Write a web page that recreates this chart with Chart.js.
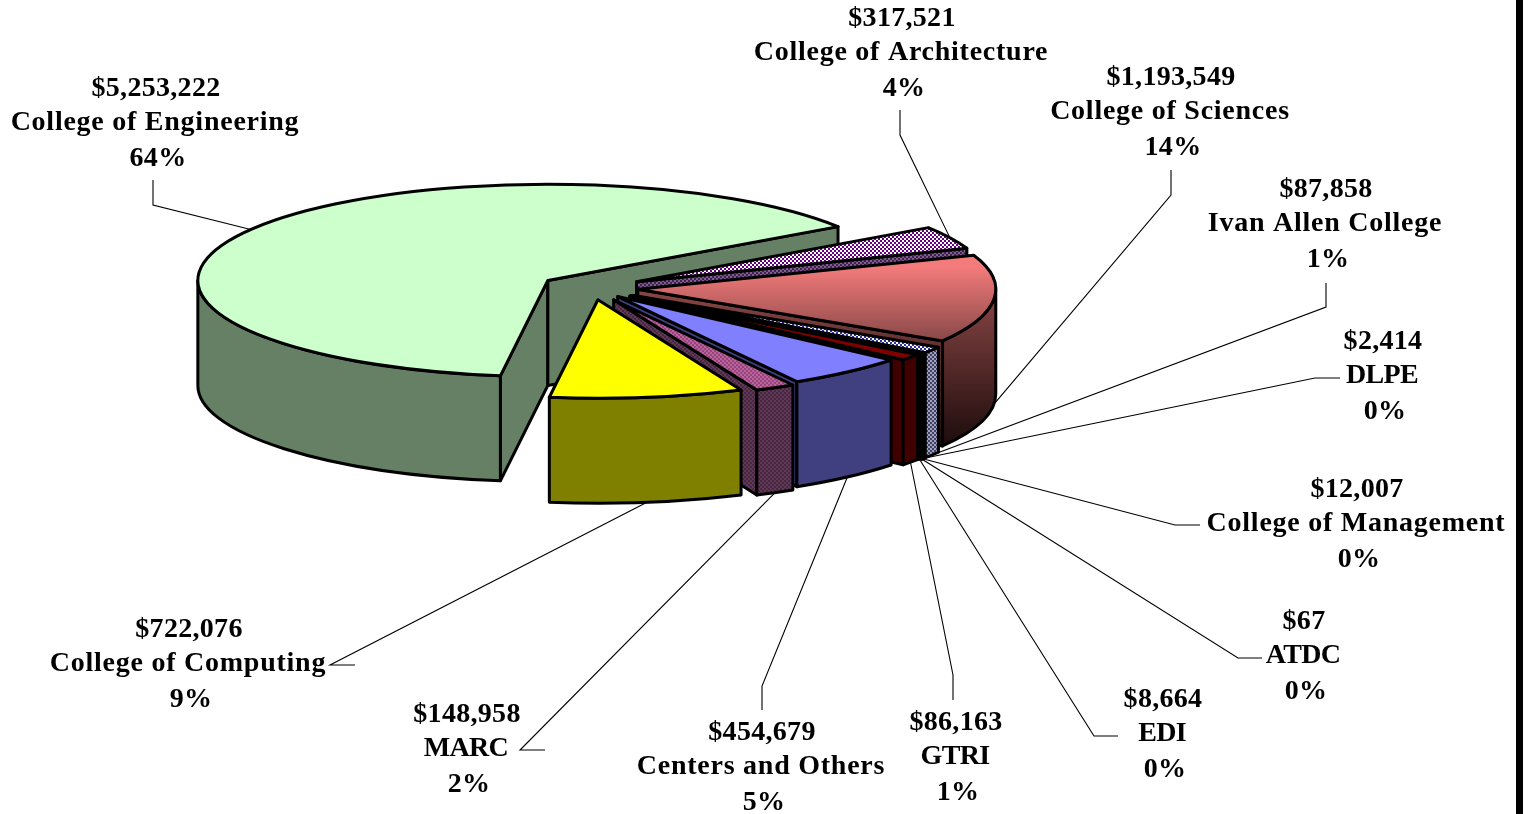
<!DOCTYPE html>
<html>
<head>
<meta charset="utf-8">
<style>
html,body{margin:0;padding:0;background:#fff;overflow:hidden}
#wrap{position:relative;width:1529px;height:814px}
#bar{position:absolute;left:1516px;top:0;width:7px;height:814px;background:#000}
canvas{display:block}
</style>
<script src="https://cdn.jsdelivr.net/npm/chart.js@4/dist/chart.umd.min.js"></script>
</head>
<body>
<div id="wrap"><canvas id="c" width="1529" height="814"></canvas><div id="bar"></div></div>
<script>
// ---- data ----
const categories = ["College of Architecture","College of Sciences","Ivan Allen College","DLPE","College of Management","ATDC","EDI","GTRI","Centers and Others","MARC","College of Computing","College of Engineering"];
const amounts = [317521,1193549,87858,2414,12007,67,8664,86163,454679,148958,722076,5253222];
const amountLabels = ["$317,521","$1,193,549","$87,858","$2,414","$12,007","$67","$8,664","$86,163","$454,679","$148,958","$722,076","$5,253,222"];
const percentLabels = ["4%","14%","1%","0%","0%","0%","0%","1%","5%","2%","9%","64%"];

// ---- layout / style ----
const explode = [50,46,50,50,50,50,48,48,40,48,43,52];
const radiusTrim = [6,0,0,0,0,0,0,0,0,0,0,8];
const labelCentre = [[901,51],[1170,110],[1325,222],[1382,374],[1356,522],[1303,654],[1162,732],[955,755],[761,765],[466,747],[188,662],[155,121]];
const leaderElbows = [[[900,110],[900,135]],[[1171,170],[1171,195]],[[1326,283],[1326,307]],[[1340,378],[1315,378]],[[1200,525],[1175,525]],[[1262,658],[1238,658]],[[1118,736],[1094,736]],[[953,700],[953,675]],[[762,710],[762,686]],[[545,750],[520,750]],[[355,665],[330,665]],[[153,180],[153,205]]];
const leaderDepth = [0,1,1,1,1,1,1,1,1,1,1,0];
const K = 0.275, RADIUS = 358, DEPTH = 105, CX = 592, CY = 288, LX = 764.5, LY = 407;

const ctx0 = document.getElementById('c').getContext('2d');
function pat(a,b){
  const n = document.createElement('canvas'); n.width = n.height = 4;
  const g = n.getContext('2d'); g.fillStyle = a; g.fillRect(0,0,4,4); g.fillStyle = b;
  g.fillRect(0,0,2,2); g.fillRect(2,2,2,2);
  return ctx0.createPattern(n,'repeat');
}
const sciTop = ctx0.createLinearGradient(0,235,0,345);
sciTop.addColorStop(0,'#ff8080'); sciTop.addColorStop(0.3,'#f27a7a'); sciTop.addColorStop(1,'#824545');
const sciWall = ctx0.createLinearGradient(0,295,0,445);
sciWall.addColorStop(0,'#864444'); sciWall.addColorStop(1,'#1e0c0c');

const topColors = [pat('#ffffff','#660080'),sciTop,pat('#ffffff','#3030a0'),'#202040','#303060','#303060',pat('#ffffff','#404040'),'#800000','#8080ff',pat('#c060a0','#904878'),'#ffff00','#ccffcc'];
const wallColors = [pat('#80608c','#402050'),sciWall,pat('#a0a0c0','#404060'),'#181830','#181830','#181830','#303040','#400000','#404080',pat('#603858','#482840'),'#808000','#668066'];
const drawOrder = [11,0,1,2,3,4,5,6,7,8,9,10];

function geom(arc,i){
  const p = arc.getProps(['x','y','startAngle','endAngle','outerRadius'],true);
  const mid = (p.startAngle+p.endAngle)/2, off = arc.options.offset||0;
  const ax = p.x+Math.cos(mid)*off+(CX-LX), ay = CY+(p.y+Math.sin(mid)*off-LY)*K;
  const R = p.outerRadius-radiusTrim[i];
  return {a:p.startAngle,b:p.endAngle,mid,ax,ay,R,
    pt:(t,d=0)=>[ax+Math.cos(t)*R, ay+Math.sin(t)*R*K+d]};
}
function quad(c,pts,fill){
  c.beginPath(); pts.forEach((q,i)=>i?c.lineTo(q[0],q[1]):c.moveTo(q[0],q[1])); c.closePath();
  c.fillStyle = fill; c.fill(); c.stroke();
}
function face(c,g,t,fill){
  const e = g.pt(t), f = g.pt(t,DEPTH);
  quad(c,[[g.ax,g.ay],e,f,[g.ax,g.ay+DEPTH]],fill);
}
function rim(c,g,fill){
  for(const s of [-2*Math.PI,0,2*Math.PI]){
    const lo = Math.max(g.a,s), hi = Math.min(g.b,s+Math.PI);
    if(hi<=lo) continue;
    c.beginPath();
    c.ellipse(g.ax,g.ay,g.R,g.R*K,0,lo,hi);
    c.ellipse(g.ax,g.ay+DEPTH,g.R,g.R*K,0,hi,lo,true);
    c.closePath(); c.fillStyle = fill; c.fill(); c.stroke();
  }
}
const pie3d = {
  id:'pie3d',
  beforeDatasetsDraw(chart){
    const c = chart.ctx, meta = chart.getDatasetMeta(0);
    c.save();
    c.lineWidth = 3; c.lineJoin = 'round'; c.strokeStyle = '#000';
    for(const i of drawOrder){
      const arc = meta.data[i], g = geom(arc,i);
      if(Math.cos(g.a)<0) face(c,g,g.a,wallColors[i]);
      if(Math.cos(g.b)>0) face(c,g,g.b,wallColors[i]);
      rim(c,g,wallColors[i]);
      c.beginPath(); c.moveTo(g.ax,g.ay);
      c.ellipse(g.ax,g.ay,g.R,g.R*K,0,g.a,g.b);
      c.closePath();
      c.fillStyle = arc.options.backgroundColor; c.fill(); c.stroke();
    }
    c.restore();
    return false;
  },
  afterDraw(chart){
    const c = chart.ctx, meta = chart.getDatasetMeta(0);
    c.save();
    c.lineWidth = 1.1; c.strokeStyle = '#000';
    categories.forEach((n,i)=>{
      const g = geom(meta.data[i],i), end = g.pt(g.mid,DEPTH*leaderDepth[i]), e = leaderElbows[i];
      c.beginPath(); c.moveTo(e[0][0],e[0][1]); c.lineTo(e[1][0],e[1][1]); c.lineTo(end[0],end[1]); c.stroke();
    });
    c.fillStyle = '#000'; c.textAlign = 'center'; c.textBaseline = 'middle';
    c.font = 'bold 28px "Liberation Serif"';
    categories.forEach((n,i)=>{
      const [x,y] = labelCentre[i];
      c.letterSpacing = '0.3px';
      c.fillText(amountLabels[i],x+1,y-32);
      c.fillText(percentLabels[i],x+3,y+38);
      c.letterSpacing = /[a-z]/.test(n) ? '0.75px' : '-0.7px';
      c.fillText(n,x,y+2);
    });
    c.restore();
  }
};
new Chart(ctx0,{
  type:'pie',
  data:{labels:categories,datasets:[{data:amounts,backgroundColor:topColors,borderWidth:0,offset:explode}]},
  options:{
    responsive:false,animation:false,rotation:56,radius:RADIUS,
    layout:{padding:0},
    events:[],
    plugins:{legend:{display:false},tooltip:{enabled:false}}
  },
  plugins:[pie3d]
});
</script>
</body>
</html>
